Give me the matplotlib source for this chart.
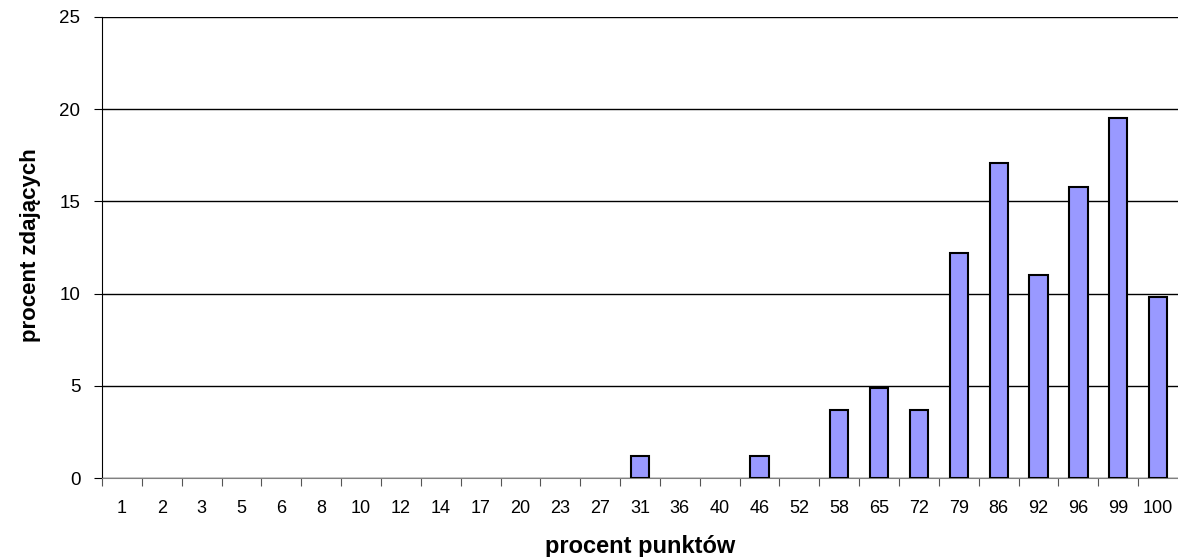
import matplotlib
matplotlib.use("Agg")
from matplotlib import pyplot as plt

# points scored (percent) and share of pupils who passed (percent)
categories = ["1", "2", "3", "5", "6", "8", "10", "12", "14", "17", "20", "23", "27",
              "31", "36", "40", "46", "52", "58", "65", "72", "79", "86", "92", "96", "99", "100"]
values = [0, 0, 0, 0, 0, 0, 0, 0, 0, 0, 0, 0, 0,
          1.2, 0, 0, 1.2, 0, 3.7, 4.9, 3.7, 12.2, 17.1, 11.0, 15.8, 19.5, 9.8]
y_ticks = [0, 5, 10, 15, 20, 25]

plt.rcParams["font.family"] = ["Liberation Sans", "DejaVu Sans"]

fig = plt.figure(figsize=(11.78, 5.57), dpi=100)
ax = fig.add_axes([0.0866, 0.1418, 0.9134, 0.8277])

# bars, only the non-empty ones
x = list(range(len(categories)))
for xi, h in zip(x, values):
    if h > 0:
        ax.bar(xi, h, width=0.46, color="#9999FF", edgecolor="black",
               linewidth=1.5, zorder=3)

# cosmetic tuning
ax.set_xlim(-0.5, len(categories) - 0.5)
ax.set_ylim(0, 25)
ax.set_yticks(y_ticks)
ax.yaxis.grid(True, color="black", linewidth=1.0, zorder=0)
ax.set_xticks([i - 0.5 for i in x], minor=False)
ax.set_xticklabels([])
ax.set_xticks(x, minor=True)
ax.set_xticklabels(categories, minor=True)
ax.tick_params(axis="x", which="major", length=6, color="#555555", direction="out")
ax.tick_params(axis="x", which="minor", length=0, labelsize=13, pad=16)
ax.tick_params(axis="y", length=6, labelsize=13.5, color="black", pad=9.5)

for s in ["top", "right"]:
    ax.spines[s].set_visible(False)
ax.spines["left"].set_color("black")
ax.spines["bottom"].set_color("#808080")
ax.axhline(25, color="#cccccc", linewidth=1.2, zorder=1)

fig.text(0.5433, 0.019, "procent punktów", fontsize=17, fontweight="bold",
         ha="center", va="center")
fig.text(0.0255, 0.560, "procent zdających", fontsize=16, fontweight="bold",
         ha="center", va="center", rotation=90)

fig.savefig("out.png", dpi=100)
